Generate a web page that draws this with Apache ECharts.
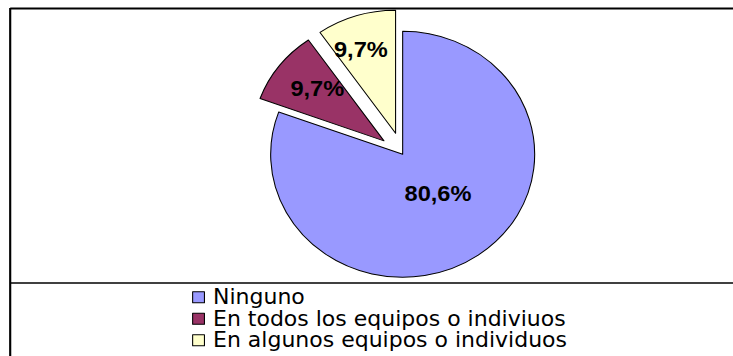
<!DOCTYPE html>
<html>
<head>
<meta charset="utf-8">
<script src="https://cdn.jsdelivr.net/npm/echarts@6/dist/echarts.min.js"></script>
<style>
  html, body { margin: 0; padding: 0; background: #fff; overflow: hidden; }
  #wrap { width: 733px; height: 356px; overflow: hidden; }
  /* the drawing is laid out narrower and widened, so the pie comes out slightly oval */
  #chart { width: 683px; height: 356px; transform: scaleX(1.0732); transform-origin: 0 0; }
</style>
</head>
<body>
<div id="wrap"><div id="chart"></div></div>
<script>
const categories = ['Ninguno', 'En todos los equipos o indiviuos', 'En algunos equipos o individuos'];
const shares = [80.6, 9.7, 9.7];
const sliceColors = ['#9999FF', '#993366', '#FFFFCC'];
const pulledOut = [false, true, true];

const FONT = '"Liberation Sans", Arial, sans-serif';
const LEGEND_FONT = '"DejaVu Sans", "Liberation Sans", Arial, sans-serif';
const W = 683, H = 356;

// label nudges (px) so each percentage sits where it reads best inside its slice
const labelNudge = [[-4, -14], [-11, -13], [-13, -22]];

const chart = echarts.init(document.getElementById('chart'), null, { renderer: 'svg', width: W, height: H });

const pieData = categories.map((name, i) => ({
  name,
  value: shares[i],
  selected: pulledOut[i],
  itemStyle: { color: sliceColors[i] },
  label: { offset: labelNudge[i] },
  select: { label: { offset: labelNudge[i] } }
}));

chart.setOption({
  animation: false,
  backgroundColor: '#ffffff',
  legend: {
    orient: 'vertical',
    left: 179,
    top: 286.5,
    padding: 0,
    itemWidth: 11,
    itemHeight: 11,
    itemGap: 0,
    icon: 'rect',
    selectedMode: false,
    itemStyle: { borderColor: '#000', borderWidth: 1 },
    textStyle: { fontFamily: LEGEND_FONT, fontSize: 20.5, color: '#000', lineHeight: 21.5, padding: [0, 0, 0, 3] },
    data: categories
  },
  series: [{
    type: 'pie',
    center: [375.2, 154.3],
    radius: [0, 123],
    startAngle: 90,
    clockwise: true,
    selectedMode: 'multiple',
    selectedOffset: 22,
    avoidLabelOverlap: false,
    itemStyle: { borderColor: '#000', borderWidth: 1 },
    label: {
      show: true,
      position: 'inside',
      fontFamily: FONT,
      fontWeight: 'bold',
      fontSize: 22,
      color: '#000',
      formatter: p => p.value.toFixed(1).replace('.', ',') + '%'
    },
    labelLine: { show: false },
    emphasis: { disabled: true },
    data: pieData
  }],
  graphic: [
    { type: 'line', shape: { x1: 9.5, y1: 8.5, x2: W, y2: 8.5 }, style: { stroke: '#000', lineWidth: 2 } },
    { type: 'line', shape: { x1: 9.5, y1: 8, x2: 9.5, y2: H }, style: { stroke: '#000', lineWidth: 2 } },
    { type: 'line', shape: { x1: 9.5, y1: 283, x2: W, y2: 283 }, style: { stroke: '#000', lineWidth: 1.5 } }
  ]
});
</script>
</body>
</html>
